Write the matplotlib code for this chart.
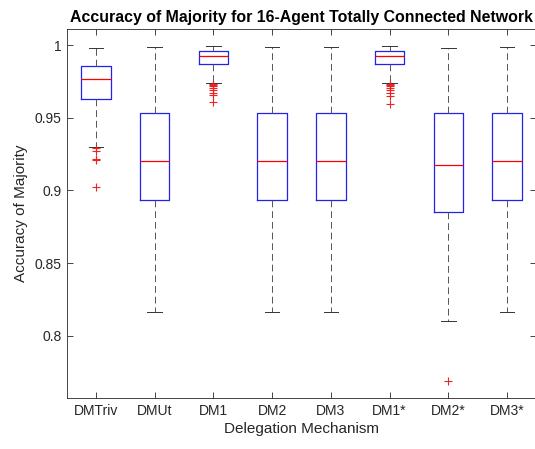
import matplotlib
matplotlib.use("Agg")
import matplotlib.pyplot as plt

plt.rcParams['font.family'] = ['Liberation Sans', 'DejaVu Sans']

# box statistics
labels = ['DMTriv', 'DMUt', 'DM1', 'DM2', 'DM3', 'DM1*', 'DM2*', 'DM3*']
whislo = [0.9297, 0.8162, 0.9737, 0.8162, 0.8162, 0.9737, 0.8102, 0.8162]
q1     = [0.9627, 0.8935, 0.9872, 0.8935, 0.8935, 0.9872, 0.8850, 0.8935]
med    = [0.9770, 0.9203, 0.9929, 0.9203, 0.9203, 0.9929, 0.9178, 0.9200]
q3     = [0.9860, 0.9533, 0.9961, 0.9533, 0.9533, 0.9963, 0.9530, 0.9530]
whishi = [0.9984, 0.9989, 0.9998, 0.9989, 0.9989, 0.9998, 0.9982, 0.9989]
fliers = [
    [0.9290, 0.9274, 0.9215, 0.9210, 0.9027],
    [],
    [0.9735, 0.9728, 0.9720, 0.9705, 0.9690, 0.9670, 0.9655, 0.9610],
    [],
    [],
    [0.9735, 0.9728, 0.9720, 0.9705, 0.9690, 0.9670, 0.9650, 0.9595],
    [0.7685],
    [],
]

stats = []
for i in range(len(labels)):
    stats.append(dict(label=labels[i], whislo=whislo[i], q1=q1[i], med=med[i],
                      q3=q3[i], whishi=whishi[i], fliers=fliers[i]))

fig = plt.figure(figsize=(5.35, 4.49), dpi=100)
ax = fig.add_axes([66.6 / 535, 51 / 449, 469.8 / 535, 368.7 / 449])

ax.bxp(stats, positions=range(1, 9), widths=0.5, showfliers=True,
       boxprops=dict(color='#2222ee', linewidth=0.9),
       medianprops=dict(color='red', linewidth=0.9),
       whiskerprops=dict(color='#555555', linewidth=0.7, linestyle=(0, (7, 4))),
       capprops=dict(color='#333333', linewidth=0.7),
       flierprops=dict(marker='+', markeredgecolor='#ee2222', markersize=6,
                       markeredgewidth=0.8, linestyle='none'))

ax.set_xlim(0.5, 8.5)
ax.set_ylim(0.757, 1.011)
ax.set_yticks([0.8, 0.85, 0.9, 0.95, 1])
ax.set_yticklabels(['0.8', '0.85', '0.9', '0.95', '1'])
ax.set_xticks(range(1, 9))
ax.set_xticklabels(labels)

grey = '#262626'
for s in ax.spines.values():
    s.set_color(grey)
    s.set_linewidth(0.6)
ax.tick_params(direction='in', length=4, width=0.6, color=grey,
               labelcolor=grey, labelsize=10, top=True, right=True)
ax.tick_params(axis='x', pad=4)

ax.set_xlabel('Delegation Mechanism', fontsize=11, color=grey, labelpad=3)
ax.set_ylabel('Accuracy of Majority', fontsize=11, color=grey, labelpad=5)
ax.set_title('Accuracy of Majority for 16-Agent Totally Connected Network',
             fontsize=11.4, fontweight='bold', pad=5)

fig.savefig('out.png', dpi=100)
